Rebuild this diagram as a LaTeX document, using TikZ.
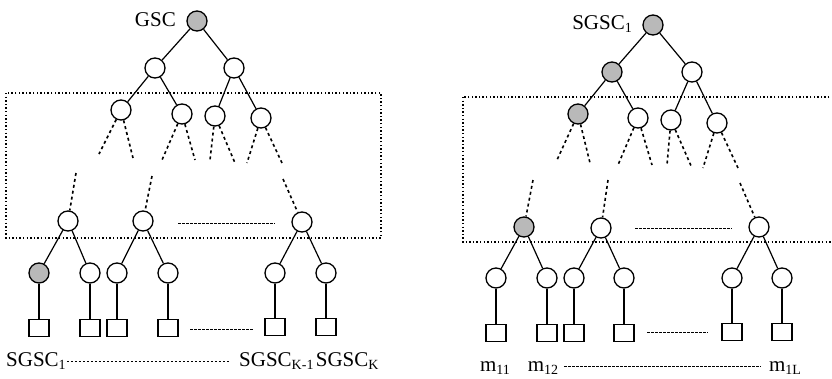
\documentclass[tikz,border=0pt]{standalone}
\usepackage{fontspec}
\setmainfont{Liberation Serif}
\newcommand{\lowidx}[1]{\raisebox{-0.4ex}{\fontsize{14}{14}\selectfont #1}}
\begin{document}
\begin{tikzpicture}[x=1pt,y=-1pt,
  vert/.style={circle,draw,line width=1.3pt,minimum size=20pt,inner sep=0pt,fill=white},
  shvert/.style={vert,fill=gray!55},
  leaf/.style={rectangle,draw,line width=1.3pt,minimum width=20pt,minimum height=17pt,inner sep=0pt},
  bleaf/.style={leaf,line width=1.9pt},
  edge/.style={line width=1.2pt},
  stub/.style={line width=1.6pt,dash pattern=on 3pt off 3pt},
  gap/.style={line width=1pt,dash pattern=on 2.5pt off 1.5pt},
  frame/.style={line width=1.4pt,dash pattern=on 1.4pt off 2.2pt},
  lbl/.style={font=\fontsize{21}{21}\selectfont,inner sep=0pt}]
\useasboundingbox (0,0) rectangle (832,378);

% ---------- left tree ----------
\draw[frame] (6,93) rectangle (381,238);
\node[shvert] (g0) at (197,21) {};
\node[lbl,anchor=east] (gl) at (176,20) {GSC};
\node[vert] (g1) at (155,68) {};
\node[vert] (g2) at (234,68) {};
\node[vert] (g3) at (121,110) {};
\node[vert] (g4) at (182,114) {};
\node[vert] (g5) at (215,116) {};
\node[vert] (g6) at (261,118) {};
\draw[edge] (g0) -- (g1);
\draw[edge] (g0) -- (g2);
\draw[edge] (g1) -- (g3);
\draw[edge] (g1) -- (g4);
\draw[edge] (g2) -- (g5);
\draw[edge] (g2) -- (g6);
\coordinate (d31) at (99,154);  \coordinate (d32) at (133,158);
\coordinate (d41) at (162,160); \coordinate (d42) at (195,160);
\coordinate (d51) at (210,160); \coordinate (d52) at (235,163);
\coordinate (d61) at (247,163); \coordinate (d62) at (282,163);
\draw[stub] (g3) -- (d31); \draw[stub] (g3) -- (d32);
\draw[stub] (g4) -- (d41); \draw[stub] (g4) -- (d42);
\draw[stub] (g5) -- (d51); \draw[stub] (g5) -- (d52);
\draw[stub] (g6) -- (d61); \draw[stub] (g6) -- (d62);
\node[vert] (h1) at (68,221) {};
\node[vert] (h2) at (143,221) {};
\node[vert] (h3) at (302,222) {};
\coordinate (u1) at (76,173); \coordinate (u2) at (152,176); \coordinate (u3) at (283,179);
\draw[stub] (u1) -- (h1);
\draw[stub] (u2) -- (h2);
\draw[stub] (u3) -- (h3);
\coordinate (hg1) at (178,223); \coordinate (hg2) at (275,223);
\draw[gap] (hg1) -- (hg2);
\node[shvert] (l1) at (39,273) {};
\node[vert] (l2) at (90,273) {};
\node[vert] (l3) at (117,273) {};
\node[vert] (l4) at (168,273) {};
\node[vert] (l5) at (275,273) {};
\node[vert] (l6) at (326,273) {};
\draw[edge] (h1) -- (l1); \draw[edge] (h1) -- (l2);
\draw[edge] (h2) -- (l3); \draw[edge] (h2) -- (l4);
\draw[edge] (h3) -- (l5); \draw[edge] (h3) -- (l6);
\node[leaf]  (s1) at (39,328) {};
\node[bleaf] (s2) at (90,328) {};
\node[bleaf] (s3) at (117,328) {};
\node[leaf]  (s4) at (168,328) {};
\node[leaf]  (s5) at (275,327) {};
\node[bleaf] (s6) at (326,327) {};
\foreach \i in {1,...,6} {\draw[edge] (l\i) -- (s\i);}
\coordinate (sg1) at (190,329); \coordinate (sg2) at (253,329);
\draw[gap] (sg1) -- (sg2);
\node[lbl,anchor=base west] (t1) at (6,366) {SGSC\lowidx{1}};
\node[lbl,anchor=base west] (t2) at (239,366) {SGSC\lowidx{K-1}};
\node[lbl,anchor=base west] (t3) at ([xshift=2pt]t2.base east) {SGSC\lowidx{K}};
\draw[gap] ([xshift=1pt,yshift=5pt]t1.base east) -- ([xshift=-10pt,yshift=5pt]t2.base west);

% ---------- right tree ----------
\draw[frame] (463,97) rectangle (845,242);
\node[shvert] (r0) at (653,25) {};
\node[lbl,anchor=east] (rl) at (632,24) {SGSC\lowidx{1}};
\node[shvert] (r1) at (612,72) {};
\node[vert] (r2) at (692,72) {};
\node[shvert] (r3) at (578,114) {};
\node[vert] (r4) at (638,118) {};
\node[vert] (r5) at (671,120) {};
\node[vert] (r6) at (717,123) {};
\draw[edge] (r0) -- (r1);
\draw[edge] (r0) -- (r2);
\draw[edge] (r1) -- (r3);
\draw[edge] (r1) -- (r4);
\draw[edge] (r2) -- (r5);
\draw[edge] (r2) -- (r6);
\coordinate (e31) at (557,160); \coordinate (e32) at (590,163);
\coordinate (e41) at (618,165); \coordinate (e42) at (652,165);
\coordinate (e51) at (667,165); \coordinate (e52) at (692,168);
\coordinate (e61) at (703,168); \coordinate (e62) at (738,168);
\draw[stub] (r3) -- (e31); \draw[stub] (r3) -- (e32);
\draw[stub] (r4) -- (e41); \draw[stub] (r4) -- (e42);
\draw[stub] (r5) -- (e51); \draw[stub] (r5) -- (e52);
\draw[stub] (r6) -- (e61); \draw[stub] (r6) -- (e62);
\node[shvert] (p1) at (524,227) {};
\node[vert] (p2) at (601,228) {};
\node[vert] (p3) at (759,227) {};
\coordinate (v1) at (533,180); \coordinate (v2) at (608,180); \coordinate (v3) at (740,183);
\draw[stub] (v1) -- (p1);
\draw[stub] (v2) -- (p2);
\draw[stub] (v3) -- (p3);
\coordinate (pg1) at (635,228); \coordinate (pg2) at (732,228);
\draw[gap] (pg1) -- (pg2);
\node[vert] (q1) at (496,278) {};
\node[vert] (q2) at (547,278) {};
\node[vert] (q3) at (574,278) {};
\node[vert] (q4) at (624,278) {};
\node[vert] (q5) at (732,278) {};
\node[vert] (q6) at (782,278) {};
\draw[edge] (p1) -- (q1); \draw[edge] (p1) -- (q2);
\draw[edge] (p2) -- (q3); \draw[edge] (p2) -- (q4);
\draw[edge] (p3) -- (q5); \draw[edge] (p3) -- (q6);
\node[leaf]  (k1) at (496,333) {};
\node[bleaf] (k2) at (547,333) {};
\node[bleaf] (k3) at (574,333) {};
\node[bleaf] (k4) at (624,333) {};
\node[leaf]  (k5) at (732,332) {};
\node[bleaf] (k6) at (782,332) {};
\foreach \i in {1,...,6} {\draw[edge] (q\i) -- (k\i);}
\coordinate (kg1) at (647,332); \coordinate (kg2) at (708,332);
\draw[gap] (kg1) -- (kg2);
\node[lbl,anchor=base] (m1) at (495,371) {m\lowidx{11}};
\node[lbl,anchor=base] (m2) at (543,371) {m\lowidx{12}};
\node[lbl,anchor=base] (m3) at (785,371) {m\lowidx{1L}};
\draw[gap] ([xshift=6pt,yshift=5pt]m2.base east) -- ([xshift=-8pt,yshift=5pt]m3.base west);
\end{tikzpicture}
\end{document}
